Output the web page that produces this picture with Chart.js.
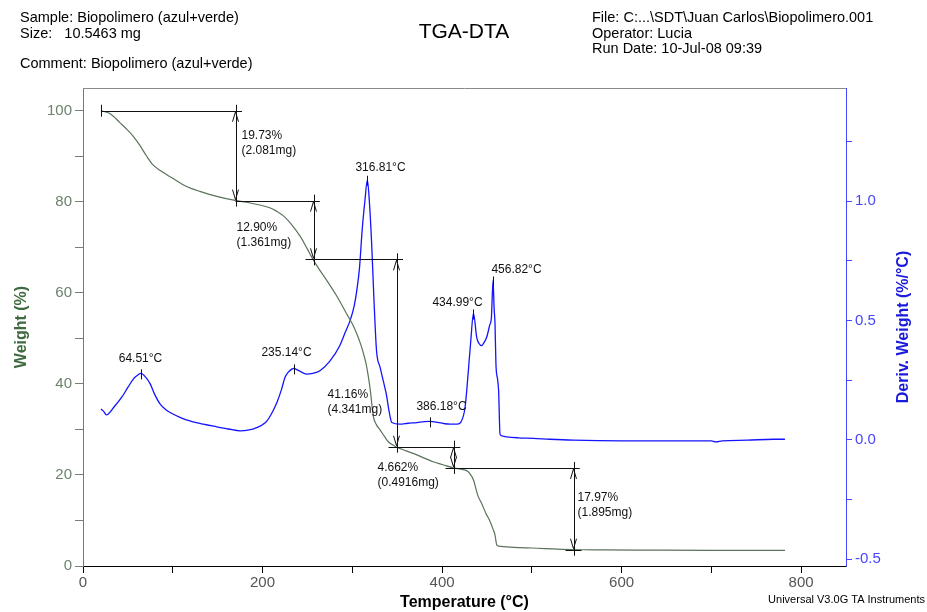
<!DOCTYPE html>
<html>
<head>
<meta charset="utf-8">
<script src="https://cdn.jsdelivr.net/npm/chart.js@4.4.1/dist/chart.umd.min.js"></script>
<style>
  html, body { margin: 0; padding: 0; background: #fff; }
  #wrap { width: 927px; height: 612px; }
</style>
</head>
<body>
<div id="wrap"><canvas id="c" width="927" height="612"></canvas></div>
<script>
// TGA weight curve: temperature (°C) and remaining weight (%)
const weightTemps = [20, 30, 41, 50, 56, 63, 71, 78, 86, 93, 103, 112, 121, 130, 149, 169.4, 185, 197, 208, 216, 224, 231, 242, 250, 256, 263, 271, 283, 294, 300, 305, 309, 312, 316, 320, 323.5, 327, 331, 336, 340, 348.7, 360, 372, 390, 400, 412.6, 420, 427, 431, 435, 440, 444, 449, 453, 457, 459, 461, 465, 480, 500, 545.6, 580, 628, 700, 782];
const weightPct = [100, 99.4, 97.4, 95.7, 94.4, 92.5, 90.0, 88.1, 86.9, 86.0, 84.8, 83.7, 82.9, 82.3, 81.2, 80.3, 79.8, 79.3, 78.7, 77.9, 76.8, 75.3, 72.4, 69.6, 67.4, 65.2, 62.9, 59.2, 55.3, 53.2, 51.0, 48.9, 47.0, 43.8, 38.7, 32.8, 31.0, 29.9, 28.4, 27.3, 26.2, 25.3, 24.4, 22.9, 22.3, 21.55, 21.3, 21.0, 20.3, 18.9, 15.4, 13.8, 11.5, 10.0, 8.0, 6.8, 4.6, 4.3, 4.1, 3.95, 3.62, 3.55, 3.5, 3.45, 3.45];

// DTG curve: temperature (°C) and derivative weight (%/°C)
const derivTemps = [20, 23, 26, 35, 43, 50, 56, 61, 64.5, 70, 75, 80, 86, 92, 97, 108, 119, 134, 149, 162, 175, 185, 193.5, 200, 205, 210, 216, 221, 225, 229, 232.5, 235.1, 238, 242, 249, 256, 264, 275, 286, 292, 297.5, 302, 305, 308, 311, 314, 316.8, 319, 321.6, 324, 327, 331, 335, 338, 341, 344, 353, 362, 372, 380, 386.2, 395, 403, 409, 417, 421, 425.6, 429, 432, 435, 438.6, 441, 444, 447, 449.7, 453, 455, 456.8, 458, 459, 460, 462, 463, 464.6, 468, 472, 485, 501.7, 520, 546, 600, 650, 700, 705, 712, 740, 769, 782];
const derivVals = [0.13, 0.12, 0.105, 0.14, 0.178, 0.22, 0.255, 0.272, 0.279, 0.262, 0.234, 0.19, 0.15, 0.128, 0.115, 0.095, 0.08, 0.066, 0.055, 0.046, 0.038, 0.042, 0.052, 0.064, 0.08, 0.11, 0.157, 0.21, 0.262, 0.285, 0.297, 0.30, 0.295, 0.287, 0.276, 0.279, 0.29, 0.33, 0.395, 0.45, 0.5, 0.56, 0.626, 0.72, 0.88, 1.0, 1.09, 1.0, 0.82, 0.6, 0.374, 0.304, 0.24, 0.19, 0.12, 0.073, 0.066, 0.07, 0.073, 0.077, 0.078, 0.074, 0.068, 0.066, 0.066, 0.075, 0.136, 0.276, 0.416, 0.53, 0.43, 0.405, 0.395, 0.41, 0.43, 0.48, 0.514, 0.668, 0.55, 0.487, 0.32, 0.25, 0.206, 0.024, 0.016, 0.013, 0.009, 0.007, 0.003, -0.001, -0.004, -0.004, -0.004, -0.008, -0.004, -0.001, 0.003, 0.003];

// Weight-loss steps: arrow temperature, loss in % and in mg
const stepStartTemp = 20;
const stepStartWeight = 100;
const stepTemps = [169.4, 256.0, 348.7, 412.6, 545.6];
const stepLossPct = [19.73, 12.90, 41.16, 4.662, 17.97];
const stepLossMg = [2.081, 1.361, 4.341, 0.4916, 1.895];

// DTG peaks
const peakTemps = [64.51, 235.14, 316.81, 386.18, 434.99, 456.82];
const peakDeriv = [0.279, 0.300, 1.09, 0.078, 0.53, 0.668];

// Tick values
const xTickValues = [0, 100, 200, 300, 400, 500, 600, 700, 800];
const weightTickValues = [0, 10, 20, 30, 40, 50, 60, 70, 80, 90, 100];
const derivTickValues = [-0.5, -0.25, 0, 0.25, 0.5, 0.75, 1.0, 1.25];

const FONT = '"Liberation Sans", Arial, Helvetica, sans-serif';

// Text placement of the step labels relative to the arrow (px)
const stepLabelLayout = [
  { dx: 6, ref: 'top', dy: 25 },
  { dx: -77, ref: 'top', dy: 27 },
  { dx: -69, ref: 'bottom', dy: -52 },
  { dx: -76, ref: 'bottom', dy: 0 },
  { dx: 4, ref: 'top', dy: 30 }
];
// Text placement of the peak labels relative to the peak mark (px)
const peakLabelLayout = [
  { dx: -1, dy: -15 },
  { dx: -8, dy: -16 },
  { dx: 13, dy: -12 },
  { dx: 11, dy: -15 },
  { dx: -16, dy: -11 },
  { dx: 23, dy: -11 }
];

const weightData = weightTemps.map((t, i) => ({ x: t, y: weightPct[i] }));
const derivData = derivTemps.map((t, i) => ({ x: t, y: derivVals[i] }));

function setTicks(values) {
  return function (scale) {
    scale.ticks = values.map(v => ({ value: v }));
  };
}

const annotations = {
  id: 'tgaAnnotations',
  afterDatasetsDraw(chart) {
    const ctx = chart.ctx;
    const x = chart.scales.x, y = chart.scales.y, y1 = chart.scales.y1;
    const ca = chart.chartArea;
    ctx.save();

    // top frame line
    ctx.strokeStyle = '#8a8a8a';
    ctx.lineWidth = 1;
    ctx.beginPath();
    ctx.moveTo(ca.left, Math.round(ca.top) + 0.5);
    ctx.lineTo(ca.right, Math.round(ca.top) + 0.5);
    ctx.stroke();

    // weight-loss step lines
    const levels = [stepStartWeight];
    stepLossPct.forEach((p, i) => levels.push(levels[i] - p));
    ctx.strokeStyle = '#111';
    ctx.fillStyle = '#111';
    ctx.lineWidth = 1;
    const hline = (x0, x1, yy) => {
      ctx.beginPath();
      ctx.moveTo(x0, Math.round(yy) + 0.5);
      ctx.lineTo(x1, Math.round(yy) + 0.5);
      ctx.stroke();
    };
    const vline = (xx, y0, y1p) => {
      ctx.beginPath();
      ctx.moveTo(Math.round(xx) + 0.5, y0);
      ctx.lineTo(Math.round(xx) + 0.5, y1p);
      ctx.stroke();
    };
    const startX = x.getPixelForValue(stepStartTemp);
    const y0 = y.getPixelForValue(levels[0]);
    vline(startX, y0 - 6, y0 + 6);
    hline(startX, x.getPixelForValue(stepTemps[0]) + 7, y0);

    ctx.font = '12px ' + FONT;
    ctx.textBaseline = 'middle';
    ctx.textAlign = 'left';
    stepTemps.forEach((t, i) => {
      const px = Math.round(x.getPixelForValue(t)) + 0.5;
      const yt = y.getPixelForValue(levels[i]);
      const yb = y.getPixelForValue(levels[i + 1]);
      // lower level line
      const next = i + 1 < stepTemps.length ? x.getPixelForValue(stepTemps[i + 1]) + 7 : px + 8;
      hline(i === 0 ? px : px - 8, next, yb);
      // double arrow
      vline(px, yt - 6, yb + 6);
      ctx.beginPath();
      ctx.moveTo(px - 3, yt + 11); ctx.lineTo(px, yt + 1); ctx.lineTo(px + 3, yt + 11);
      ctx.moveTo(px - 3, yb - 11); ctx.lineTo(px, yb - 1); ctx.lineTo(px + 3, yb - 11);
      ctx.stroke();
      // label
      const lay = stepLabelLayout[i];
      const ly = (lay.ref === 'top' ? yt : yb) + lay.dy;
      ctx.fillText(stepLossPct[i].toFixed(stepLossPct[i] < 10 ? 3 : 2) + '%', px + lay.dx, ly);
      ctx.fillText('(' + stepLossMg[i] + 'mg)', px + lay.dx, ly + 15);
    });

    // DTG peak marks and labels
    ctx.textAlign = 'center';
    peakTemps.forEach((t, i) => {
      const px = Math.round(x.getPixelForValue(t)) + 0.5;
      const py = y1.getPixelForValue(peakDeriv[i]);
      ctx.beginPath();
      ctx.moveTo(px, py - 4);
      ctx.lineTo(px, py + 6);
      ctx.stroke();
      const lay = peakLabelLayout[i];
      ctx.fillText(t.toFixed(2) + '°C', px + lay.dx, py + lay.dy);
    });
    ctx.restore();
  },
  afterDraw(chart) {
    const ctx = chart.ctx;
    const ca = chart.chartArea;
    ctx.save();
    ctx.fillStyle = '#000';
    ctx.textBaseline = 'middle';
    ctx.textAlign = 'left';
    ctx.font = '14.5px ' + FONT;
    ctx.fillText('Sample: Biopolimero (azul+verde)', 20, 18);
    ctx.fillText('Size:   10.5463 mg', 20, 34);
    ctx.fillText('Comment: Biopolimero (azul+verde)', 20, 64);
    ctx.fillText('File: C:...\\SDT\\Juan Carlos\\Biopolimero.001', 592, 18);
    ctx.fillText('Operator: Lucia', 592, 34);
    ctx.fillText('Run Date: 10-Jul-08 09:39', 592, 49);
    ctx.textAlign = 'center';
    ctx.font = '21px ' + FONT;
    ctx.fillText('TGA-DTA', 464, 32);
    ctx.textAlign = 'right';
    ctx.font = '11px ' + FONT;
    ctx.fillText('Universal V3.0G TA Instruments', 925, 600);
    // right axis title, reading bottom to top
    ctx.save();
    ctx.translate(904, (ca.top + ca.bottom) / 2);
    ctx.rotate(-Math.PI / 2);
    ctx.textAlign = 'center';
    ctx.fillStyle = '#1a1adc';
    ctx.font = 'bold 16px ' + FONT;
    ctx.fillText('Deriv. Weight (%/°C)', 0, 0);
    ctx.restore();
    ctx.restore();
  }
};

new Chart(document.getElementById('c'), {
  type: 'scatter',
  data: {
    datasets: [
      {
        label: 'Weight (%)',
        data: weightData,
        yAxisID: 'y',
        showLine: true,
        borderColor: '#5b735b',
        borderWidth: 1.2,
        pointRadius: 0,
        cubicInterpolationMode: 'monotone'
      },
      {
        label: 'Deriv. Weight (%/°C)',
        data: derivData,
        yAxisID: 'y1',
        showLine: true,
        borderColor: '#1414ff',
        borderWidth: 1.3,
        pointRadius: 0,
        cubicInterpolationMode: 'monotone'
      }
    ]
  },
  options: {
    responsive: false,
    devicePixelRatio: 1,
    animation: false,
    layout: { padding: { top: 88, left: 0, right: 0, bottom: 0 } },
    plugins: {
      legend: { display: false },
      tooltip: { enabled: false },
      title: { display: false }
    },
    scales: {
      x: {
        type: 'linear',
        position: 'bottom',
        min: 0,
        max: 850,
        afterBuildTicks: setTicks(xTickValues),
        afterFit(s) { s.height = 46; },
        ticks: {
          autoSkip: false,
          maxRotation: 0,
          padding: 1,
          color: '#555',
          font: { family: FONT, size: 15 },
          callback: v => (v % 200 === 0 ? String(v) : '')
        },
        grid: { drawOnChartArea: false, drawTicks: true, tickLength: 7, tickColor: '#000' },
        border: { display: true, color: '#000', width: 1 },
        title: {
          display: true,
          text: 'Temperature (°C)',
          color: '#000',
          font: { family: FONT, size: 16, weight: 'bold' },
          padding: { top: 0, bottom: 0 }
        }
      },
      y: {
        type: 'linear',
        position: 'left',
        min: 0,
        max: 105,
        afterBuildTicks: setTicks(weightTickValues),
        afterFit(s) { s.width = 83; },
        ticks: {
          autoSkip: false,
          padding: 3,
          color: '#6d826d',
          font: { family: FONT, size: 15 },
          callback: v => (v % 20 === 0 ? String(v) : '')
        },
        grid: { drawOnChartArea: false, drawTicks: true, tickLength: 8, tickColor: '#6d826d' },
        border: { display: true, color: '#6d826d', width: 1 },
        title: {
          display: true,
          text: 'Weight (%)',
          color: '#3f6a3f',
          font: { family: FONT, size: 16, weight: 'bold' },
          padding: { top: 12, bottom: 0 }
        }
      },
      y1: {
        type: 'linear',
        position: 'right',
        min: -0.528,
        max: 1.4745,
        afterBuildTicks: setTicks(derivTickValues),
        afterFit(s) { s.width = 81; },
        ticks: {
          autoSkip: false,
          padding: 3,
          color: '#4646ff',
          font: { family: FONT, size: 15 },
          callback: v => (Math.abs(v * 2 - Math.round(v * 2)) < 1e-9 ? v.toFixed(1) : '')
        },
        grid: { drawOnChartArea: false, drawTicks: true, tickLength: 6, tickColor: '#4646ff' },
        border: { display: true, color: '#4646ff', width: 1 }
      }
    }
  },
  plugins: [annotations]
});
</script>
</body>
</html>
